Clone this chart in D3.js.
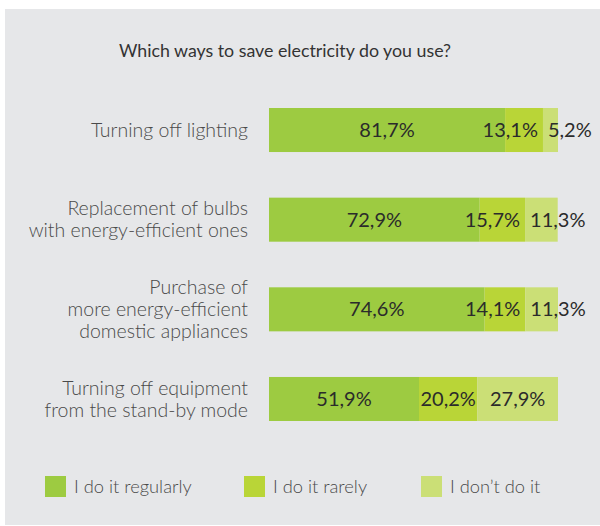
<!DOCTYPE html>
<html>
<head>
<meta charset="utf-8">
<script src="https://cdn.jsdelivr.net/npm/d3@7"></script>
<style>
  html, body { margin: 0; padding: 0; background: #ffffff; }
  svg { display: block; font-family: Lato, "Open Sans", sans-serif; }
</style>
</head>
<body>
<svg id="chart" width="600" height="526"></svg>
<script>
const title = "Which ways to save electricity do you use?";
const categories = [
  "Turning off lighting",
  "Replacement of bulbs\nwith energy-efficient ones",
  "Purchase of\nmore energy-efficient\ndomestic appliances",
  "Turning off equipment\nfrom the stand-by mode"
];
const seriesNames = ["I do it regularly", "I do it rarely", "I don\u2019t do it"];
const regularly = [81.7, 72.9, 74.6, 51.9];
const rarely = [13.1, 15.7, 14.1, 20.2];
const dontDo = [5.2, 11.3, 11.3, 27.9];
const colors = ["#9dcb41", "#b9d537", "#cbdf76"];

const series = [regularly, rarely, dontDo];
const svg = d3.select("#chart");

// panel background
svg.append("rect").attr("x", 5).attr("y", 9).attr("width", 595).attr("height", 516)
  .attr("fill", "#e6e7e9");

// title
svg.append("text").attr("x", 285).attr("y", 57).attr("text-anchor", "middle")
  .attr("font-size", 17.8).attr("fill", "#333").text(title);

const x = d3.scaleLinear().domain([0, 100]).range([269, 558]);
const y = d3.scaleBand().domain(categories).range([108, 421]).paddingInner(0.509).paddingOuter(0);

const fmt = v => d3.format(".1f")(v).replace(".", ",") + "%";

// stacked data
const rows = categories.map((c, i) => {
  let acc = 0;
  return series.map((s, k) => {
    const seg = { cat: c, k, v: s[i], x0: acc, x1: acc + s[i] };
    acc += s[i];
    return seg;
  });
});

const g = svg.append("g");
rows.forEach(row => {
  const rg = g.append("g");
  rg.selectAll("rect").data(row).join("rect")
    .attr("x", d => x(d.x0))
    .attr("y", d => y(d.cat))
    .attr("width", d => x(d.x1) - x(d.x0))
    .attr("height", y.bandwidth())
    .attr("fill", d => colors[d.k]);
  rg.selectAll("text").data(row).join("text")
    .attr("y", d => y(d.cat) + y.bandwidth() / 2)
    .attr("dy", "0.35em")
    .attr("font-size", 20)
    .attr("fill", "#2b2b2b")
    .text(d => fmt(d.v))
    .each(function(d) {
      const w = this.getComputedTextLength();
      const segW = x(d.x1) - x(d.x0);
      const sel = d3.select(this);
      if (w <= segW || d.k === 0) {
        sel.attr("x", (x(d.x0) + x(d.x1)) / 2).attr("text-anchor", "middle");
      } else if (d.k === row.length - 1) {
        sel.attr("x", x(d.x0) + 5).attr("text-anchor", "start");
      } else {
        sel.attr("x", x(d.x1) - 5).attr("text-anchor", "end");
      }
    });
});

// category labels
const lineH = 22;
categories.forEach(c => {
  const lines = c.split("\n");
  const cy = y(c) + y.bandwidth() / 2;
  const t = svg.append("text").attr("text-anchor", "end")
    .attr("font-size", 19.5).attr("font-weight", 300).attr("fill", "#4a4a4a");
  lines.forEach((ln, j) => {
    t.append("tspan").attr("x", 248)
      .attr("y", cy + (j - (lines.length - 1) / 2) * lineH)
      .attr("dy", "0.35em").text(ln);
  });
});

// legend
const legX = [45, 244, 421];
const lg = svg.append("g");
seriesNames.forEach((n, i) => {
  lg.append("rect").attr("x", legX[i]).attr("y", 476).attr("width", 21).attr("height", 21)
    .attr("fill", colors[i]);
  lg.append("text").attr("x", legX[i] + 29).attr("y", 487).attr("dy", "0.35em")
    .attr("font-size", 18.3).attr("font-weight", 300).attr("fill", "#4a4a4a").text(n);
});
</script>
</body>
</html>
